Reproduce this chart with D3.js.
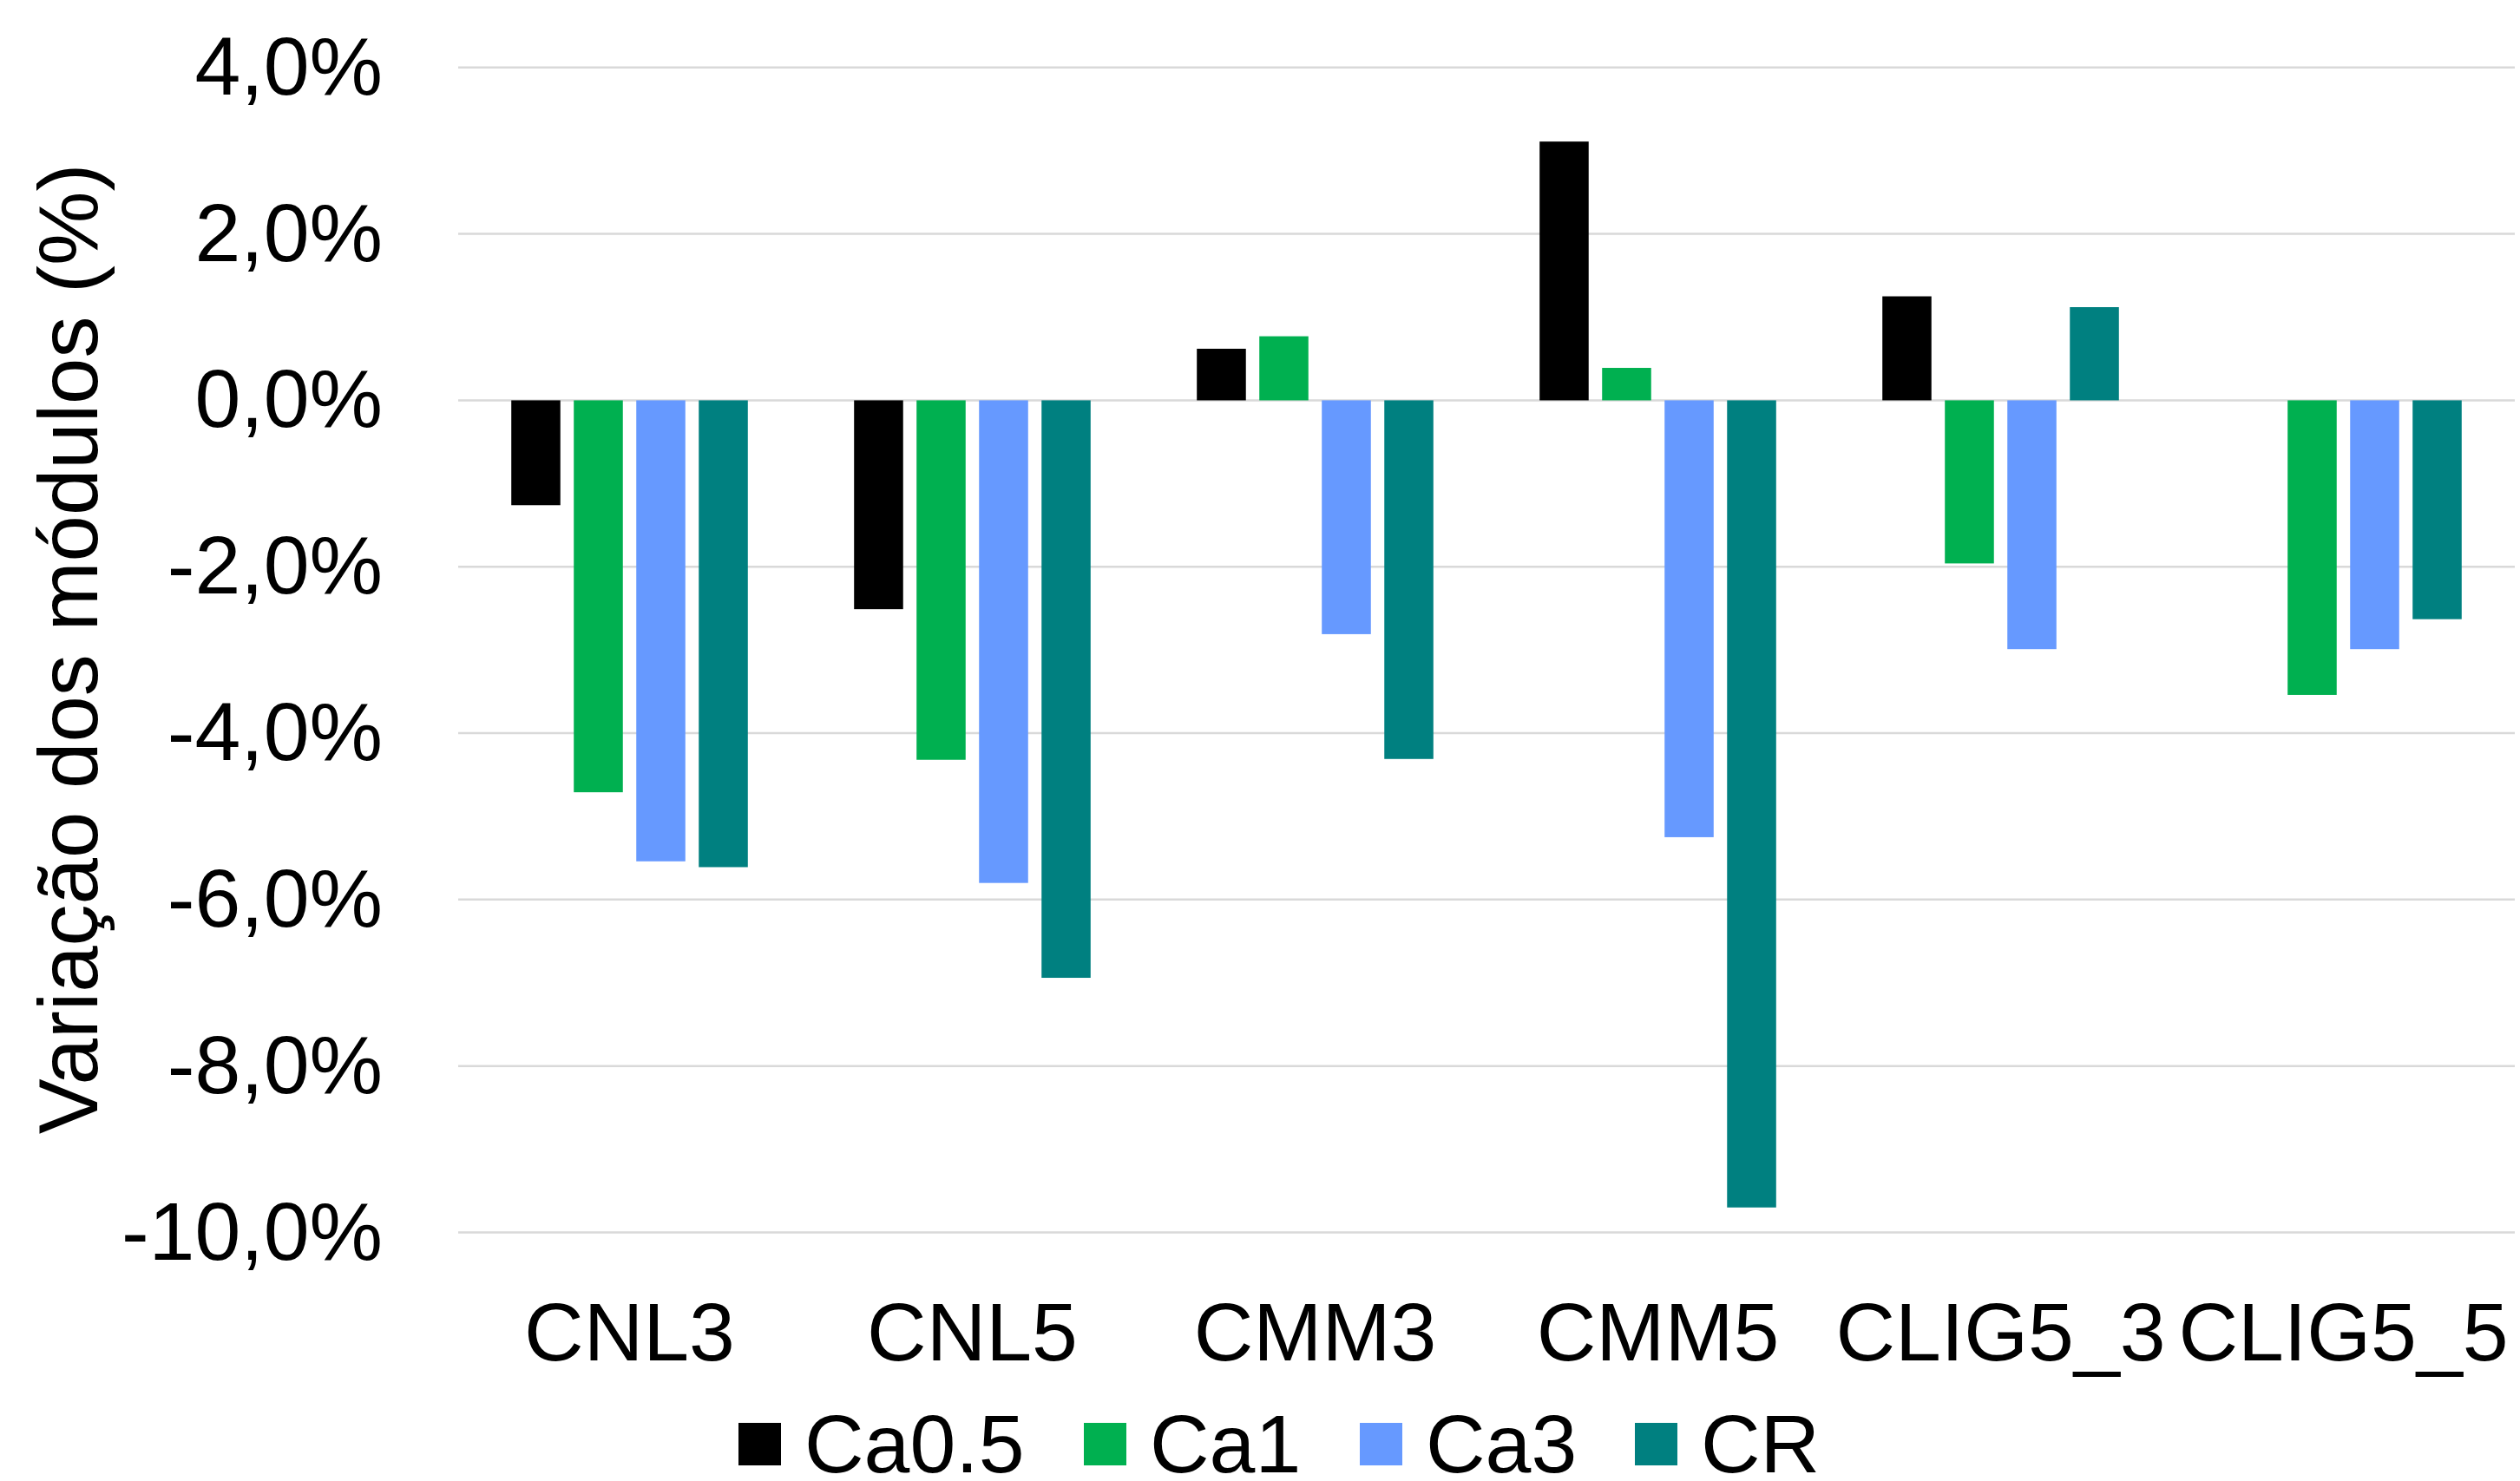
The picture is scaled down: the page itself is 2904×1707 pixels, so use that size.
<!DOCTYPE html>
<html>
<head>
<meta charset="utf-8">
<script src="https://cdn.jsdelivr.net/npm/d3@7"></script>
<style>
  html, body { margin: 0; padding: 0; background: #ffffff; }
  svg { display: block; }
  text { font-family: "Liberation Sans", Arial, sans-serif; fill: #000; }
</style>
</head>
<body>
<svg id="chart" width="2904" height="1707"></svg>
<script>
// Variação dos módulos por mistura e por condição
const categories = ["CNL3", "CNL5", "CMM3", "CMM5", "CLIG5_3", "CLIG5_5"];
const seriesNames = ["Ca0.5", "Ca1", "Ca3", "CR"];
const seriesColors = ["#000000", "#00B050", "#6699FF", "#008080"];

const ca05 = [-1.26, -2.51, 0.62, 3.11, 1.25, null];
const ca1  = [-4.71, -4.32, 0.77, 0.39, -1.96, -3.54];
const ca3  = [-5.54, -5.80, -2.81, -5.25, -2.99, -2.99];
const cr   = [-5.61, -6.94, -4.31, -9.70, 1.12, -2.63];

const yTicks = [4, 2, 0, -2, -4, -6, -8, -10];
const yTitle = "Variação dos módulos (%)";

const seriesValues = [ca05, ca1, ca3, cr];

const W = 2904, H = 1707;
const plot = { left: 528, right: 2898, top: 77.8, bottom: 1420.5 };
const FONT = 95;

const svg = d3.select("#chart");
svg.append("rect").attr("width", W).attr("height", H).attr("fill", "#ffffff");

const ptLocale = d3.formatLocale({
  decimal: ",", thousands: ".", grouping: [3], currency: ["", " €"], minus: "-"
});
const fmt = v => ptLocale.format(".1f")(v) + "%";

const y = d3.scaleLinear().domain([-10, 4]).range([plot.bottom, plot.top]);
const x0 = d3.scaleBand().domain(categories).range([plot.left, plot.right]).padding(0);
const x1 = d3.scaleBand().domain(seriesNames).range([0, x0.bandwidth()])
  .paddingInner(0.215).paddingOuter(0.85);

// horizontal gridlines
svg.append("g").selectAll("line").data(yTicks).join("line")
  .attr("x1", plot.left).attr("x2", plot.right)
  .attr("y1", d => y(d)).attr("y2", d => y(d))
  .attr("stroke", "#D9D9D9").attr("stroke-width", 2.5);

// y tick labels
svg.append("g").selectAll("text").data(yTicks).join("text")
  .attr("x", 441).attr("y", d => y(d) + 31)
  .attr("text-anchor", "end").attr("font-size", FONT)
  .text(fmt);

// bars
const rows = [];
seriesNames.forEach((s, si) => {
  categories.forEach((c, ci) => {
    const v = seriesValues[si][ci];
    if (v !== null && v !== undefined) rows.push({ s, si, c, v });
  });
});
svg.append("g").selectAll("rect").data(rows).join("rect")
  .attr("x", d => x0(d.c) + x1(d.s))
  .attr("width", x1.bandwidth())
  .attr("y", d => Math.min(y(d.v), y(0)))
  .attr("height", d => Math.abs(y(d.v) - y(0)))
  .attr("fill", d => seriesColors[d.si]);

// category labels
svg.append("g").selectAll("text").data(categories).join("text")
  .attr("x", d => x0(d) + x0.bandwidth() / 2)
  .attr("y", 1568)
  .attr("text-anchor", "middle").attr("font-size", FONT)
  .text(d => d);

// y axis title
svg.append("text")
  .attr("transform", "translate(112,748) rotate(-90)")
  .attr("text-anchor", "middle").attr("font-size", FONT + 1)
  .text(yTitle);

// legend: swatch, then label, items laid out left to right
const legendX = [851, 1249, 1567, 1884];
const legend = svg.append("g");
seriesNames.forEach((s, i) => {
  legend.append("rect")
    .attr("x", legendX[i]).attr("y", 1640).attr("width", 49).attr("height", 49)
    .attr("fill", seriesColors[i]);
  legend.append("text")
    .attr("x", legendX[i] + 76).attr("y", 1697)
    .attr("font-size", FONT).text(s);
});
</script>
</body>
</html>
